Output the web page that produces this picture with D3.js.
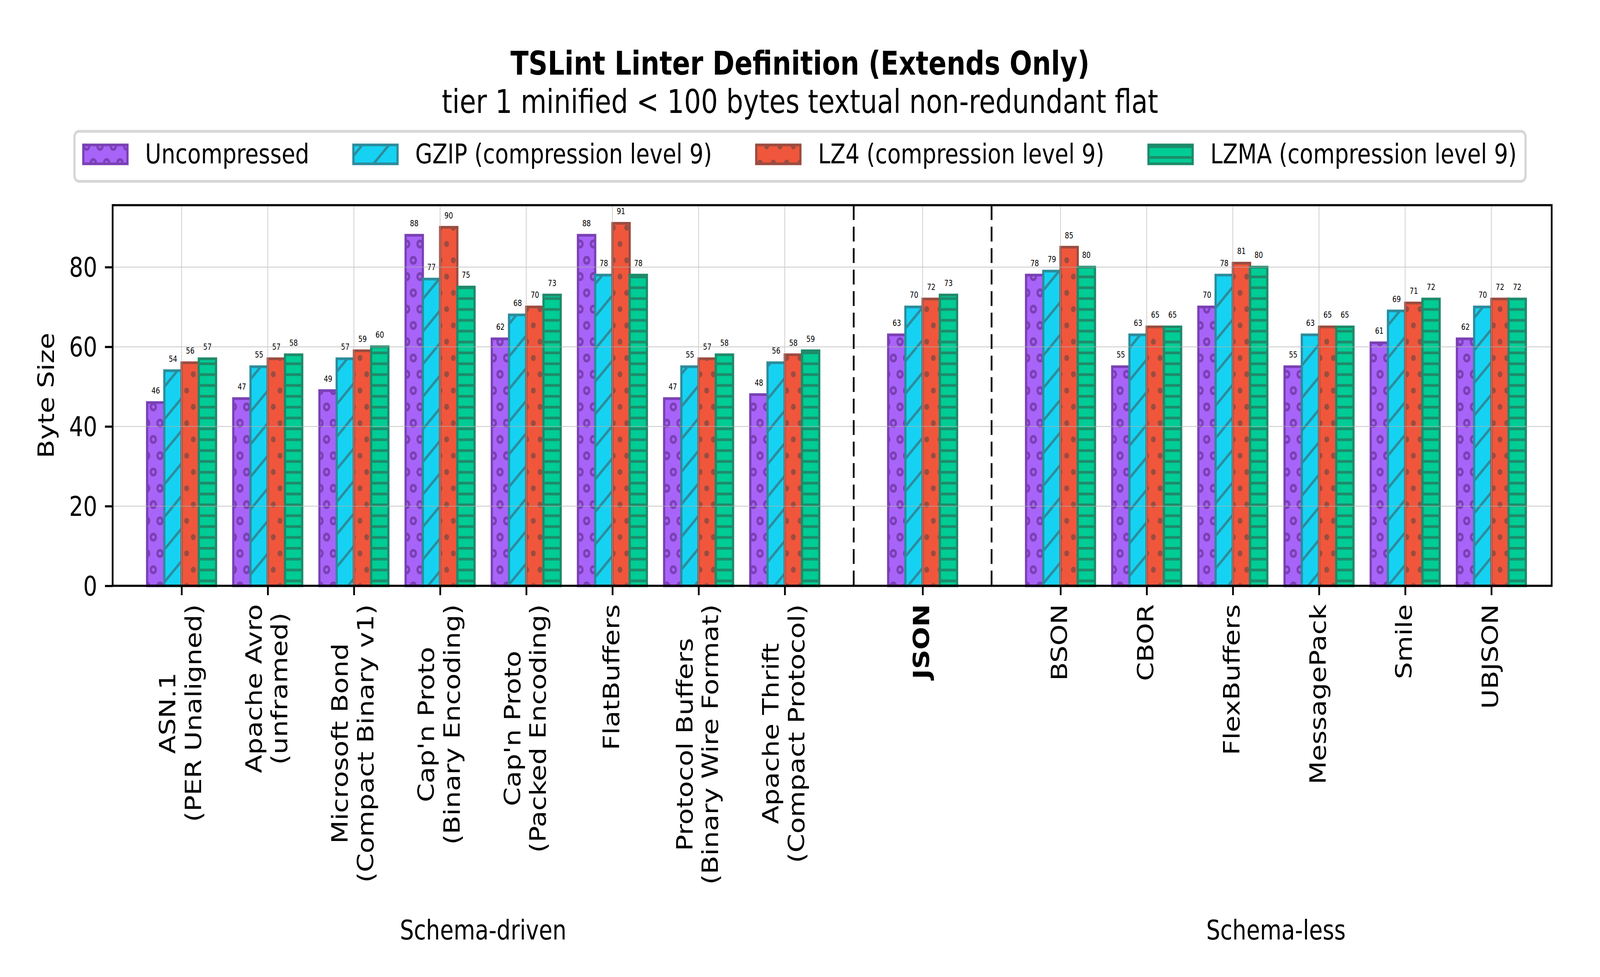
<!DOCTYPE html>
<html>
<head>
<meta charset="utf-8">
<script src="https://cdn.jsdelivr.net/npm/d3@7"></script>
<style>
  html, body { margin: 0; padding: 0; background: #fff; overflow: hidden; }
  svg { display: block; }
  text { font-family: "DejaVu Sans", sans-serif; }
</style>
</head>
<body>
<script>
// chart data
var categories = ["ASN.1\n(PER Unaligned)", "Apache Avro\n(unframed)", "Microsoft Bond\n(Compact Binary v1)",
  "Cap'n Proto\n(Binary Encoding)", "Cap'n Proto\n(Packed Encoding)", "FlatBuffers",
  "Protocol Buffers\n(Binary Wire Format)", "Apache Thrift\n(Compact Protocol)",
  "JSON",
  "BSON", "CBOR", "FlexBuffers", "MessagePack", "Smile", "UBJSON"];
// which block each category sits in: 0 schema-driven, 1 json, 2 schema-less
var categoryBlock = [0, 0, 0, 0, 0, 0, 0, 0, 1, 2, 2, 2, 2, 2, 2];
var blockNames = ["Schema-driven", "", "Schema-less"];

var seriesNames = ["Uncompressed", "GZIP (compression level 9)", "LZ4 (compression level 9)", "LZMA (compression level 9)"];
var uncompressed = [46, 47, 49, 88, 62, 88, 47, 48, 63, 78, 55, 70, 55, 61, 62];
var gzip         = [54, 55, 57, 77, 68, 78, 55, 56, 70, 79, 63, 78, 63, 69, 70];
var lz4          = [56, 57, 59, 90, 70, 91, 57, 58, 72, 85, 65, 81, 65, 71, 72];
var lzma         = [57, 58, 60, 75, 73, 78, 58, 59, 73, 80, 65, 80, 65, 72, 72];
var series = [uncompressed, gzip, lz4, lzma];

var yTicks = [0, 20, 40, 60, 80];

var title = "TSLint Linter Definition (Extends Only)";
var subtitle = "tier 1 minified < 100 bytes textual non-redundant flat";
var yLabel = "Byte Size";

// styles
var fills = ["#a864f8", "#16d2f2", "#f0563b", "#00cc95"];
var edges = ["#7a40b4", "#2b8c9c", "#9b4c40", "#1e8a6a"];
var hatchNames = ["circles", "diag", "dots", "hlines"];

var W = 5000, H = 2500;
var plot = {left: 352, right: 4849, top: 525, bottom: 1499};
var lw = 6.9;
var blockGap = 1.6;

// slot positions along x: consecutive inside a block, wider gap between blocks
var slots = [];
categories.forEach(function(c, i) {
    if (i == 0) slots.push(0);
    else slots.push(slots[i - 1] + (categoryBlock[i] == categoryBlock[i - 1] ? 1 : blockGap));
});

var x = d3.scaleLinear().domain([-0.8, 15.9]).range([plot.left, plot.right]);
var y = d3.scaleLinear().domain([0, d3.max(series, function(s){ return d3.max(s); }) * 1.05]).range([plot.bottom, plot.top]);
var barW = 0.2;

// drawn in a 5000x2500 space, stretched over the whole window
var svg = d3.select("body").append("svg")
    .attr("width", window.innerWidth || W).attr("height", window.innerHeight || H)
    .attr("viewBox", "0 0 " + W + " " + H)
    .attr("preserveAspectRatio", "none");

// hatch patterns, aligned to the page like matplotlib does
var defs = svg.append("defs");
function addPattern(i) {
    var p, u = 41.67;
    if (hatchNames[i] == "circles" || hatchNames[i] == "dots") {
        p = defs.append("pattern").attr("id", "hatch" + i).attr("patternUnits", "userSpaceOnUse")
            .attr("x", 20.7).attr("y", 41).attr("width", u).attr("height", 2 * u);
        p.append("rect").attr("width", u).attr("height", 2 * u).attr("fill", fills[i]);
        var pts = [[0, 0], [u, 0], [0, 2 * u], [u, 2 * u], [u / 2, u]];
        pts.forEach(function(q) {
            if (hatchNames[i] == "circles")
                p.append("circle").attr("cx", q[0]).attr("cy", q[1]).attr("r", 8)
                    .attr("fill", "none").attr("stroke", edges[i]).attr("stroke-width", lw);
            else
                p.append("circle").attr("cx", q[0]).attr("cy", q[1]).attr("r", 7.6)
                    .attr("fill", edges[i]);
        });
    } else if (hatchNames[i] == "diag") {
        var s = 2 * u;
        p = defs.append("pattern").attr("id", "hatch" + i).attr("patternUnits", "userSpaceOnUse")
            .attr("x", 3).attr("y", 0).attr("width", s).attr("height", s);
        p.append("rect").attr("width", s).attr("height", s).attr("fill", fills[i]);
        p.append("path")
            .attr("d", "M-10,10L10,-10M-10," + (s + 10) + "L" + (s + 10) + ",-10M" + (s - 10) + "," + (s + 10) + "L" + (s + 10) + "," + (s - 10))
            .attr("stroke", edges[i]).attr("stroke-width", lw);
    } else {
        var h = 27.78;
        p = defs.append("pattern").attr("id", "hatch" + i).attr("patternUnits", "userSpaceOnUse")
            .attr("x", 0).attr("y", 14).attr("width", 20).attr("height", h);
        p.append("rect").attr("width", 20).attr("height", h).attr("fill", fills[i]);
        p.append("path").attr("d", "M0,0H20M0," + h + "H20")
            .attr("stroke", edges[i]).attr("stroke-width", lw);
    }
}
series.forEach(function(s, i){ addPattern(i); });

// titles
svg.append("text").attr("x", W / 2).attr("y", 191).attr("text-anchor", "middle")
    .attr("font-size", 83).attr("font-weight", "bold").text(title);
svg.append("text").attr("x", W / 2).attr("y", 289).attr("text-anchor", "middle")
    .attr("font-size", 83).text(subtitle);

// bars
var bars = svg.append("g");
series.forEach(function(s, si) {
    var off = (si - 1.5) * barW;
    bars.selectAll(null).data(s).enter().append("rect")
        .attr("x", function(d, i){ return x(slots[i] + off - barW / 2); })
        .attr("width", x(barW) - x(0))
        .attr("y", function(d){ return y(d); })
        .attr("height", function(d){ return y(0) - y(d); })
        .attr("fill", "url(#hatch" + si + ")")
        .attr("stroke", edges[si]).attr("stroke-width", lw);
    bars.selectAll(null).data(s).enter().append("text")
        .attr("x", function(d, i){ return x(slots[i] + off); })
        .attr("y", function(d){ return y(d) - 23; })
        .attr("text-anchor", "middle").attr("font-size", 20.8)
        .text(function(d){ return d; });
});

// grid on top of bars
var grid = svg.append("g").attr("stroke", "#b0b0b0").attr("stroke-width", 2).attr("opacity", 0.7);
grid.selectAll(null).data(yTicks).enter().append("line")
    .attr("x1", plot.left).attr("x2", plot.right)
    .attr("y1", function(d){ return y(d); }).attr("y2", function(d){ return y(d); });
grid.selectAll(null).data(slots).enter().append("line")
    .attr("y1", plot.top).attr("y2", plot.bottom)
    .attr("x1", function(d){ return x(d); }).attr("x2", function(d){ return x(d); });

// dashed separators between blocks
var seps = [];
for (var i = 1; i < slots.length; i++)
    if (categoryBlock[i] != categoryBlock[i - 1]) seps.push((slots[i] + slots[i - 1]) / 2);
svg.selectAll(null).data(seps).enter().append("line")
    .attr("x1", function(d){ return x(d); }).attr("x2", function(d){ return x(d); })
    .attr("y1", plot.top).attr("y2", plot.bottom)
    .attr("stroke", "#000").attr("stroke-width", 5.5).attr("stroke-dasharray", "38,17");

// axes
var yAxis = svg.append("g").attr("transform", "translate(" + plot.left + ",0)")
    .call(d3.axisLeft(y).tickValues(yTicks).tickSize(24).tickPadding(24));
var xAxis = svg.append("g").attr("transform", "translate(0," + plot.bottom + ")")
    .call(d3.axisBottom(x).tickValues(slots).tickSize(24).tickFormat(""));
[yAxis, xAxis].forEach(function(a) {
    a.select(".domain").remove();
    a.selectAll(".tick line").attr("stroke-width", 5.5);
    a.selectAll("text").attr("font-size", 69).attr("font-family", "DejaVu Sans").attr("fill", "#000");
});
yAxis.selectAll("text").attr("dy", "0.35em");

svg.append("rect").attr("x", plot.left).attr("y", plot.top)
    .attr("width", plot.right - plot.left).attr("height", plot.bottom - plot.top)
    .attr("fill", "none").attr("stroke", "#000").attr("stroke-width", 5.5);

// rotated, multi-line category labels
var labelTop = plot.bottom + 47;
categories.forEach(function(c, i) {
    var lines = c.split("\n");
    var g = svg.append("g").attr("transform", "translate(" + x(slots[i]) + "," + labelTop + ") rotate(-90)");
    var t = g.selectAll(null).data(lines).enter().append("text")
        .attr("font-size", 69).attr("text-anchor", "middle")
        .attr("font-weight", c == "JSON" ? "bold" : "normal")
        .attr("y", function(d, k){ return 21 + (k - (lines.length - 1) / 2) * 80; })
        .text(function(d){ return d; });
    var maxW = d3.max(t.nodes(), function(n){ return n.getComputedTextLength(); });
    t.attr("x", -maxW / 2);
});

// block labels
blockNames.forEach(function(name, b) {
    if (!name) return;
    var pos = slots.filter(function(s, i){ return categoryBlock[i] == b; });
    svg.append("text").attr("x", x((d3.min(pos) + d3.max(pos)) / 2)).attr("y", 2404)
        .attr("text-anchor", "middle").attr("font-size", 69).text(name);
});

// y label
svg.append("text").attr("transform", "translate(168," + (plot.top + plot.bottom) / 2 + ") rotate(-90)")
    .attr("text-anchor", "middle").attr("font-size", 69).text(yLabel);

// legend
var em = 69, handleW = 2 * em, handleH = 0.7 * em, pad = 0.4 * em, textPad = 0.8 * em, colSpace = 2 * em;
var legend = svg.append("g");
var frame = legend.append("rect");
var items = legend.selectAll(null).data(seriesNames).enter().append("g");
items.append("rect").attr("width", handleW).attr("height", handleH).attr("y", 395 - handleH / 2)
    .attr("fill", function(d, i){ return "url(#hatch" + i + ")"; })
    .attr("stroke", function(d, i){ return edges[i]; }).attr("stroke-width", lw);
items.append("text").attr("x", handleW + textPad).attr("y", 418).attr("font-size", em)
    .text(function(d){ return d; });
var widths = items.select("text").nodes().map(function(n){ return n.getComputedTextLength(); });
var total = 2 * pad + d3.sum(widths) + widths.length * (handleW + textPad) + (widths.length - 1) * colSpace;
var cur = W / 2 - total / 2 + pad;
var left = W / 2 - total / 2;
items.each(function(d, i) {
    var px = cur;
    cur += handleW + textPad + widths[i] + colSpace;
    d3.select(this).selectAll("rect").attr("x", px);
    d3.select(this).selectAll("text").attr("x", px + handleW + textPad);
});
frame.attr("x", left).attr("y", 336).attr("width", total).attr("height", 128)
    .attr("rx", 14).attr("fill", "#fff").attr("stroke", "#d6d6d6").attr("stroke-width", lw);
</script>
</body>
</html>
